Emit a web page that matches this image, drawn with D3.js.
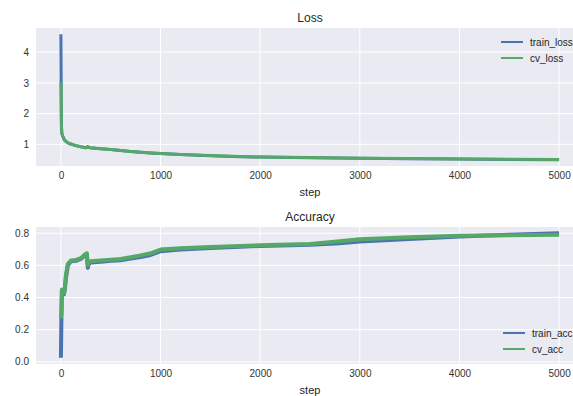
<!DOCTYPE html>
<html lang="en">
<head>
    <meta charset="UTF-8">
    <title>Loss / Accuracy</title>
    <script src="https://d3js.org/d3.v7.min.js"></script>
    <style>
        body { margin: 0; background: #ffffff; }
        svg { display: block; font-family: "Liberation Sans", Arial, sans-serif; }
        .tick text { fill: #333333; font-size: 10px; }
        .title { fill: #262626; font-size: 12px; text-anchor: middle; }
        .xlabel { fill: #262626; font-size: 11px; text-anchor: middle; }
        .legend text { fill: #262626; font-size: 10px; }
    </style>
</head>
<body>
    <svg id="chart" width="573" height="396"></svg>
    <script>
        // sampled training steps
        const steps = [0, 5, 10, 20, 30, 40, 50, 70, 100, 150, 200, 250, 260, 270, 280, 300,
            400, 500, 600, 700, 800, 900, 1000, 1200, 1500, 1800, 2000, 2500, 2800, 3000,
            3500, 4000, 4500, 5000];

        const trainLoss = [4.58, 1.60, 1.35, 1.25, 1.18, 1.13, 1.10, 1.05, 1.01, 0.96, 0.92, 0.89, 0.91, 0.93, 0.90, 0.89,
            0.86, 0.83, 0.80, 0.77, 0.745, 0.72, 0.70, 0.67, 0.63, 0.60, 0.585, 0.565, 0.555, 0.55,
            0.535, 0.52, 0.51, 0.50];
        const cvLoss = [3.02, 1.58, 1.34, 1.25, 1.18, 1.13, 1.10, 1.05, 1.01, 0.96, 0.92, 0.885, 0.90, 0.915, 0.895, 0.885,
            0.855, 0.83, 0.80, 0.77, 0.745, 0.72, 0.70, 0.67, 0.635, 0.605, 0.585, 0.57, 0.558, 0.552,
            0.537, 0.525, 0.513, 0.505];

        const trainAcc = [0.025, 0.27, 0.44, 0.43, 0.42, 0.45, 0.52, 0.60, 0.625, 0.628, 0.64, 0.668, 0.67, 0.585, 0.61, 0.618,
            0.622, 0.628, 0.632, 0.642, 0.652, 0.665, 0.688, 0.698, 0.708, 0.716, 0.721, 0.729, 0.738, 0.748,
            0.764, 0.779, 0.79, 0.80];
        const cvAcc = [0.27, 0.30, 0.45, 0.44, 0.43, 0.46, 0.54, 0.61, 0.63, 0.634, 0.645, 0.672, 0.675, 0.60, 0.62, 0.625,
            0.63, 0.635, 0.64, 0.65, 0.662, 0.675, 0.698, 0.706, 0.714, 0.72, 0.725, 0.733, 0.75, 0.762,
            0.775, 0.784, 0.787, 0.79];

        const xTicks = [0, 1000, 2000, 3000, 4000, 5000];
        const lossTicks = [1, 2, 3, 4];
        const accTicks = [0.0, 0.2, 0.4, 0.6, 0.8];

        const blue = "#4C72B0";
        const green = "#55A868";

        const svg = d3.select("#chart");

        function pad(ext) {
            const m = (ext[1] - ext[0]) * 0.05;
            return [ext[0] - m, ext[1] + m];
        }

        function panel(opts) {
            const { top, bottom, title, series, yTicks, yFmt, legendY, legendX } = opts;
            const left = 36, right = 584;

            const x = d3.scaleLinear().domain(pad(d3.extent(steps))).range([left, right]);
            const allY = series.flatMap(s => s.values);
            const y = d3.scaleLinear().domain(pad(d3.extent(allY))).range([bottom, top]);

            const clipId = "clip-" + title;
            svg.append("clipPath").attr("id", clipId)
                .append("rect").attr("x", left).attr("y", top)
                .attr("width", right - left).attr("height", bottom - top);

            svg.append("rect")
                .attr("x", left).attr("y", top)
                .attr("width", right - left).attr("height", bottom - top)
                .attr("fill", "#EAEAF2");

            // grid
            svg.append("g").selectAll("line").data(xTicks).join("line")
                .attr("x1", d => x(d)).attr("x2", d => x(d))
                .attr("y1", top).attr("y2", bottom)
                .attr("stroke", "#fff").attr("stroke-width", 1);
            svg.append("g").selectAll("line").data(yTicks).join("line")
                .attr("x1", left).attr("x2", right)
                .attr("y1", d => y(d)).attr("y2", d => y(d))
                .attr("stroke", "#fff").attr("stroke-width", 1);

            // axes (labels only, no tick marks)
            const xAxis = svg.append("g")
                .attr("transform", `translate(0,${bottom})`)
                .call(d3.axisBottom(x).tickValues(xTicks).tickSize(0).tickPadding(6).tickFormat(d3.format("d")));
            xAxis.select(".domain").remove();

            const yAxis = svg.append("g")
                .attr("transform", `translate(${left},0)`)
                .call(d3.axisLeft(y).tickValues(yTicks).tickSize(0).tickPadding(7).tickFormat(yFmt));
            yAxis.select(".domain").remove();
            xAxis.attr("font-family", null).attr("font-size", null);
            yAxis.attr("font-family", null).attr("font-size", null);

            const line = d3.line()
                .x((d, i) => x(steps[i]))
                .y(d => y(d));

            const lines = svg.append("g").attr("clip-path", `url(#${clipId})`);
            series.forEach(s => {
                lines.append("path")
                    .datum(s.values)
                    .attr("d", line)
                    .attr("fill", "none")
                    .attr("stroke", s.color)
                    .attr("stroke-width", s.width)
                    .attr("stroke-linejoin", "round");
            });

            svg.append("text").attr("class", "title")
                .attr("x", (left + right) / 2).attr("y", top - 6)
                .text(title);
            svg.append("text").attr("class", "xlabel")
                .attr("x", (left + right) / 2).attr("y", bottom + 30)
                .text("step");

            const lg = svg.append("g").attr("class", "legend");
            series.forEach((s, i) => {
                const ly = legendY + i * 16;
                lg.append("line")
                    .attr("x1", legendX).attr("x2", legendX + 22)
                    .attr("y1", ly).attr("y2", ly)
                    .attr("stroke", s.color).attr("stroke-width", 2);
                lg.append("text")
                    .attr("x", legendX + 29).attr("y", ly)
                    .attr("dy", "0.35em")
                    .text(s.name);
            });
        }

        panel({
            top: 28, bottom: 166, title: "Loss",
            series: [
                { name: "train_loss", values: trainLoss, color: blue, width: 3 },
                { name: "cv_loss", values: cvLoss, color: green, width: 3 }
            ],
            yTicks: lossTicks, yFmt: d3.format("d"),
            legendX: 501, legendY: 42
        });

        panel({
            top: 227, bottom: 364, title: "Accuracy",
            series: [
                { name: "train_acc", values: trainAcc, color: blue, width: 4 },
                { name: "cv_acc", values: cvAcc, color: green, width: 4 }
            ],
            yTicks: accTicks, yFmt: d3.format(".1f"),
            legendX: 503, legendY: 333
        });
    </script>
</body>
</html>
